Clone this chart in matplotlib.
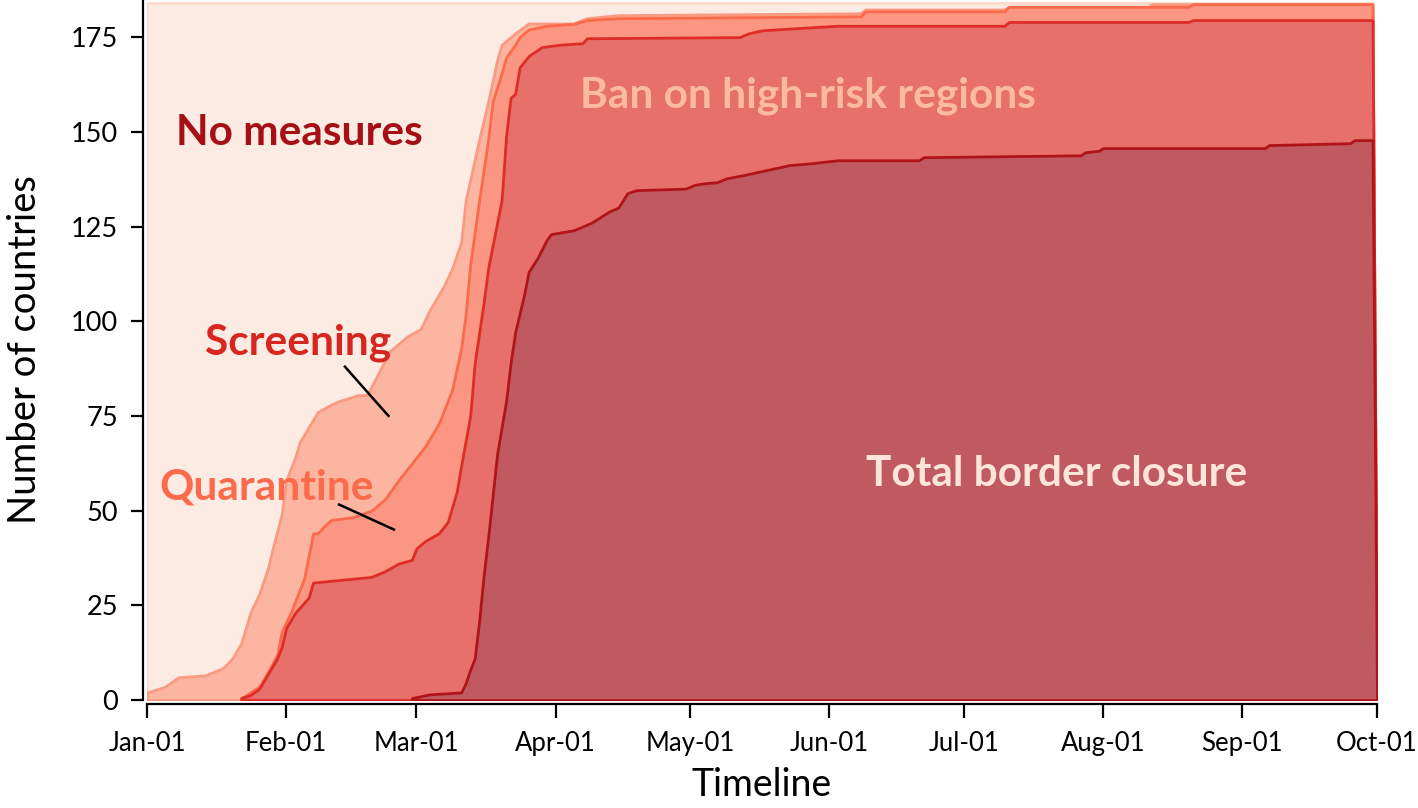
import numpy as np
import matplotlib
matplotlib.use("Agg")
import matplotlib.pyplot as plt

plt.rcParams['font.family'] = ['Lato', 'DejaVu Sans']

# ---------------- data (days since 2020-01-01, cumulative number of countries) -------------
start_date = np.datetime64('2020-01-01')
end_date = np.datetime64('2020-10-01')
total_countries = 184

# countries with at least screening (top boundary of "Screening")
screening_days = [0, 4, 7, 13, 17, 19, 21, 23, 25, 27, 28, 30, 31, 33, 34, 36, 38, 41, 43, 47,
                  49, 51, 54, 58, 61, 63, 66, 68, 70, 71, 74, 76, 78, 79, 82, 85, 95, 98, 105, 159,
                  160, 191, 192, 223, 224, 273]
screening_vals = [2, 3.5, 6, 6.5, 8.5, 11, 15, 23, 28, 35, 40, 49, 58, 64, 68, 72, 76, 78, 79, 80.5,
                  80.5, 85, 92, 96, 98, 103, 109, 114, 121, 132, 148, 158, 169, 173, 176, 178.6, 178.6, 180, 180.8, 181.3,
                  182.3, 182.3, 183, 183, 183.7, 183.7]

# countries with at least quarantine
quarantine_days = [21, 23, 25, 27, 29, 30, 32, 33, 35, 36, 37, 38, 40, 41, 46, 50, 53, 56, 59, 62,
                   65, 68, 70, 71, 72, 74, 76, 77, 79, 80, 82, 83, 85, 89, 95, 98, 105, 159, 160, 191,
                   192, 232, 233, 273]
quarantine_vals = [0.5, 2, 3.5, 7.5, 12, 18, 23, 26, 32, 38, 44, 44, 46.5, 47.5, 48.3, 50, 53, 58, 62.5, 67,
                   73, 82, 93, 102, 115, 132, 148, 158, 165.5, 169.7, 173, 175, 177, 178, 178.5, 179.5, 180, 180.5, 181.8, 181.8,
                   183, 183, 183.7, 183.7]

# countries with at least a ban on high-risk regions
ban_days = [21, 23, 25, 27, 29, 30, 31, 33, 36, 37, 50, 53, 56, 59, 60, 62, 65, 67, 69, 70,
            72, 73, 75, 76, 79, 80, 81, 82, 83, 85, 88, 92, 97, 98, 132, 134, 137, 148, 154, 191,
            192, 232, 233, 273]
ban_vals = [0.5, 1.3, 3, 7, 11, 14, 19, 23, 27, 31, 32.5, 34, 36, 37, 40, 42, 44, 47, 55, 62,
            75, 89, 105, 114, 132, 149, 159, 160, 167, 170, 172.4, 173, 173.4, 174.7, 175, 176, 176.8, 177.6, 178, 178,
            179, 179, 179.5, 179.5]

# countries with total border closure
closure_days = [59, 63, 70, 71, 72, 73, 74, 75, 76, 77, 78, 79, 80, 81, 82, 83, 84, 85, 87, 89,
                90, 95, 97, 99, 101, 103, 105, 107, 109, 120, 122, 124, 127, 129, 133, 136, 140, 143, 148, 150,
                154, 172, 173, 208, 209, 212, 213, 249, 250, 268, 269, 273]
closure_vals = [0.5, 1.5, 2, 4.5, 8, 11, 21, 33, 43, 54, 65, 72, 79, 89, 97, 102, 107, 113, 116.7, 121.4,
                123, 124, 125, 126, 127.5, 129, 130, 133.8, 134.6, 135, 136, 136.4, 136.7, 137.7, 138.6, 139.4, 140.4, 141.2, 141.7, 142,
                142.5, 142.5, 143.3, 143.8, 144.6, 145, 145.7, 145.7, 146.5, 147, 147.8, 147.8]

month_ticks = ['2020-01-01', '2020-02-01', '2020-03-01', '2020-04-01', '2020-05-01', '2020-06-01',
               '2020-07-01', '2020-08-01', '2020-09-01', '2020-10-01']
month_labels = ['Jan-01', 'Feb-01', 'Mar-01', 'Apr-01', 'May-01', 'Jun-01', 'Jul-01', 'Aug-01', 'Sep-01', 'Oct-01']
y_ticks = [0, 25, 50, 75, 100, 125, 150, 175]

# ---------------- figure ----------------
W, H = 1418, 808
fig = plt.figure(figsize=(W / 100, H / 100), dpi=100)
ax = fig.add_axes([147 / W, (H - 700) / H, 1230 / W, 700 / H])


def to_dates(days):
    d = np.array(list(days) + [274])
    return start_date + d.astype('timedelta64[D]')


def closed(vals):
    return np.array(list(vals) + [0.0])


layers = [
    ([0, 273], [total_countries, total_countries], '#fcebe3', '#fcd9ca'),
    (screening_days, screening_vals, '#fbb5a1', '#fa9a80'),
    (quarantine_days, quarantine_vals, '#fa9682', '#fb6a4a'),
    (ban_days, ban_vals, '#e8706a', '#de2d26'),
    (closure_days, closure_vals, '#c05a60', '#b01419'),
]
for days, vals, fc, ec in layers:
    x = to_dates(days)
    y = closed(vals)
    ax.fill_between(x, 0, y, facecolor=fc, edgecolor=ec, linewidth=2.0, zorder=2)

ax.set_xlim(start_date, end_date)
ax.set_ylim(0, 184.8)

ax.set_xticks([np.datetime64(m) for m in month_ticks])
ax.set_xticklabels(month_labels)
ax.set_yticks(y_ticks)
ax.set_yticklabels([str(v) for v in y_ticks])

for s in ['top', 'right']:
    ax.spines[s].set_visible(False)
for s in ['left', 'bottom']:
    ax.spines[s].set_linewidth(1.6)
    ax.spines[s].set_position(('outward', 3))
ax.tick_params(axis='x', direction='out', length=10, width=1.6, pad=9, labelsize=18.5)
ax.tick_params(axis='y', direction='out', length=9, width=1.6, pad=9, labelsize=19.5)

ax.set_xlabel('Timeline', fontsize=27, labelpad=8)
ax.set_ylabel('Number of countries', fontsize=27.5, labelpad=20)


def dd(day):
    return start_date + np.timedelta64(int(round(day * 24)), 'h')


fs = 30.5
ax.text(dd(33.9), 149.6, 'No measures', color='#a50f15', fontsize=fs, fontweight='bold',
        ha='center', va='center', zorder=5)
ax.text(dd(33.6), 94.2, 'Screening', color='#d7261f', fontsize=fs, fontweight='bold',
        ha='center', va='center', zorder=5)
ax.text(dd(26.7), 56.2, 'Quarantine', color='#fb6a4a', fontsize=fs, fontweight='bold',
        ha='center', va='center', zorder=5)
ax.text(dd(147.3), 159.4, 'Ban on high-risk regions', color='#fcbba1', fontsize=fs, fontweight='bold',
        ha='center', va='center', zorder=5)
ax.text(dd(202.7), 59.6, 'Total border closure', color='#fee5d9', fontsize=fs, fontweight='bold',
        ha='center', va='center', zorder=5)

ax.plot([dd(44.1), dd(53.8)], [88.0, 75.0], color='black', linewidth=1.8, zorder=5)
ax.plot([dd(42.8), dd(55.0)], [51.6, 45.0], color='black', linewidth=1.8, zorder=5)

fig.savefig('out.png', dpi=100)
